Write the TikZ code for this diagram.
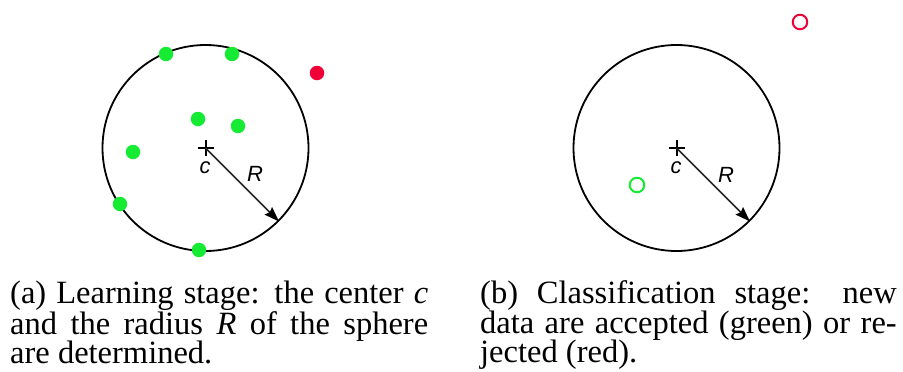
\documentclass[tikz,border=0pt]{standalone}
\usepackage{fontspec}
\setmainfont{Liberation Serif}
\newfontfamily\labfont{Liberation Sans}
\usetikzlibrary{arrows.meta}
\definecolor{dotgreen}{RGB}{20,235,50}
\definecolor{dotred}{RGB}{240,0,55}
\begin{document}
\begin{tikzpicture}[x=1pt,y=-1pt,
  sphere/.style={draw=black, line width=1.8pt, circle, minimum size=206pt, inner sep=0pt},
  datapt/.style={circle, inner sep=0pt, minimum size=14.5pt, fill=#1},
  newpt/.style={circle, inner sep=0pt, minimum size=14.5pt, draw=#1, line width=2pt},
  crossline/.style={line width=2pt, black},
  radiusarrow/.style={line width=1.5pt, black!85, -{Stealth[length=15pt,width=10.5pt,inset=2pt,black]}},
  symlabel/.style={font=\labfont\itshape\fontsize{22}{22}\selectfont, inner sep=0pt},
  caption/.style={anchor=base west, inner sep=0pt, font=\fontsize{32.5}{29.7}\selectfont}
]
\useasboundingbox (0,0) rectangle (903,372);

% ---- (a) learning stage ----
\coordinate (c1) at (205.5,148);
\node[sphere] (s1) at (c1) {};
\draw[crossline] ([xshift=-8pt]c1) -- ([xshift=8pt]c1);
\draw[crossline] ([yshift=-8pt]c1) -- ([yshift=8pt]c1);
\draw[radiusarrow] (c1) -- (s1.-45);
\node[symlabel] (lc1) at (205,168) {c};
\node[symlabel] (lr1) at (255,174) {R};
\node[datapt=dotgreen] (g1) at (166,54) {};
\node[datapt=dotgreen] (g2) at (232,54) {};
\node[datapt=dotgreen] (g3) at (198,119) {};
\node[datapt=dotgreen] (g4) at (238,126) {};
\node[datapt=dotgreen] (g5) at (133,152) {};
\node[datapt=dotgreen] (g6) at (120,204) {};
\node[datapt=dotgreen] (g7) at (199,250) {};
\node[datapt=dotred] (r1) at (317,73) {};

% ---- (b) classification stage ----
\coordinate (c2) at (676.5,148);
\node[sphere] (s2) at (c2) {};
\draw[crossline] ([xshift=-8pt]c2) -- ([xshift=8pt]c2);
\draw[crossline] ([yshift=-8pt]c2) -- ([yshift=8pt]c2);
\draw[radiusarrow] (c2) -- (s2.-45);
\node[symlabel] (lc2) at (676,168) {c};
\node[symlabel] (lr2) at (726,175) {R};
\node[newpt=dotgreen] (ng) at (637,185) {};
\node[newpt=dotred] (nr) at (800,22) {};

% ---- captions ----
\node[caption] (capa) at (10,303.3) {\parbox[t]{418pt}{\tolerance=10000\hyphenpenalty=10000
(a) Learning stage: the center \textit{c}\linebreak
and the radius \textit{R} of the sphere\linebreak
are determined.}};
\node[caption] (capb) at (480,303.3) {\parbox[t]{416.5pt}{\tolerance=10000\hyphenpenalty=10000
(b) Classification stage: new\linebreak
data are accepted (green) or re-\linebreak
jected (red).}};
\end{tikzpicture}
\end{document}
